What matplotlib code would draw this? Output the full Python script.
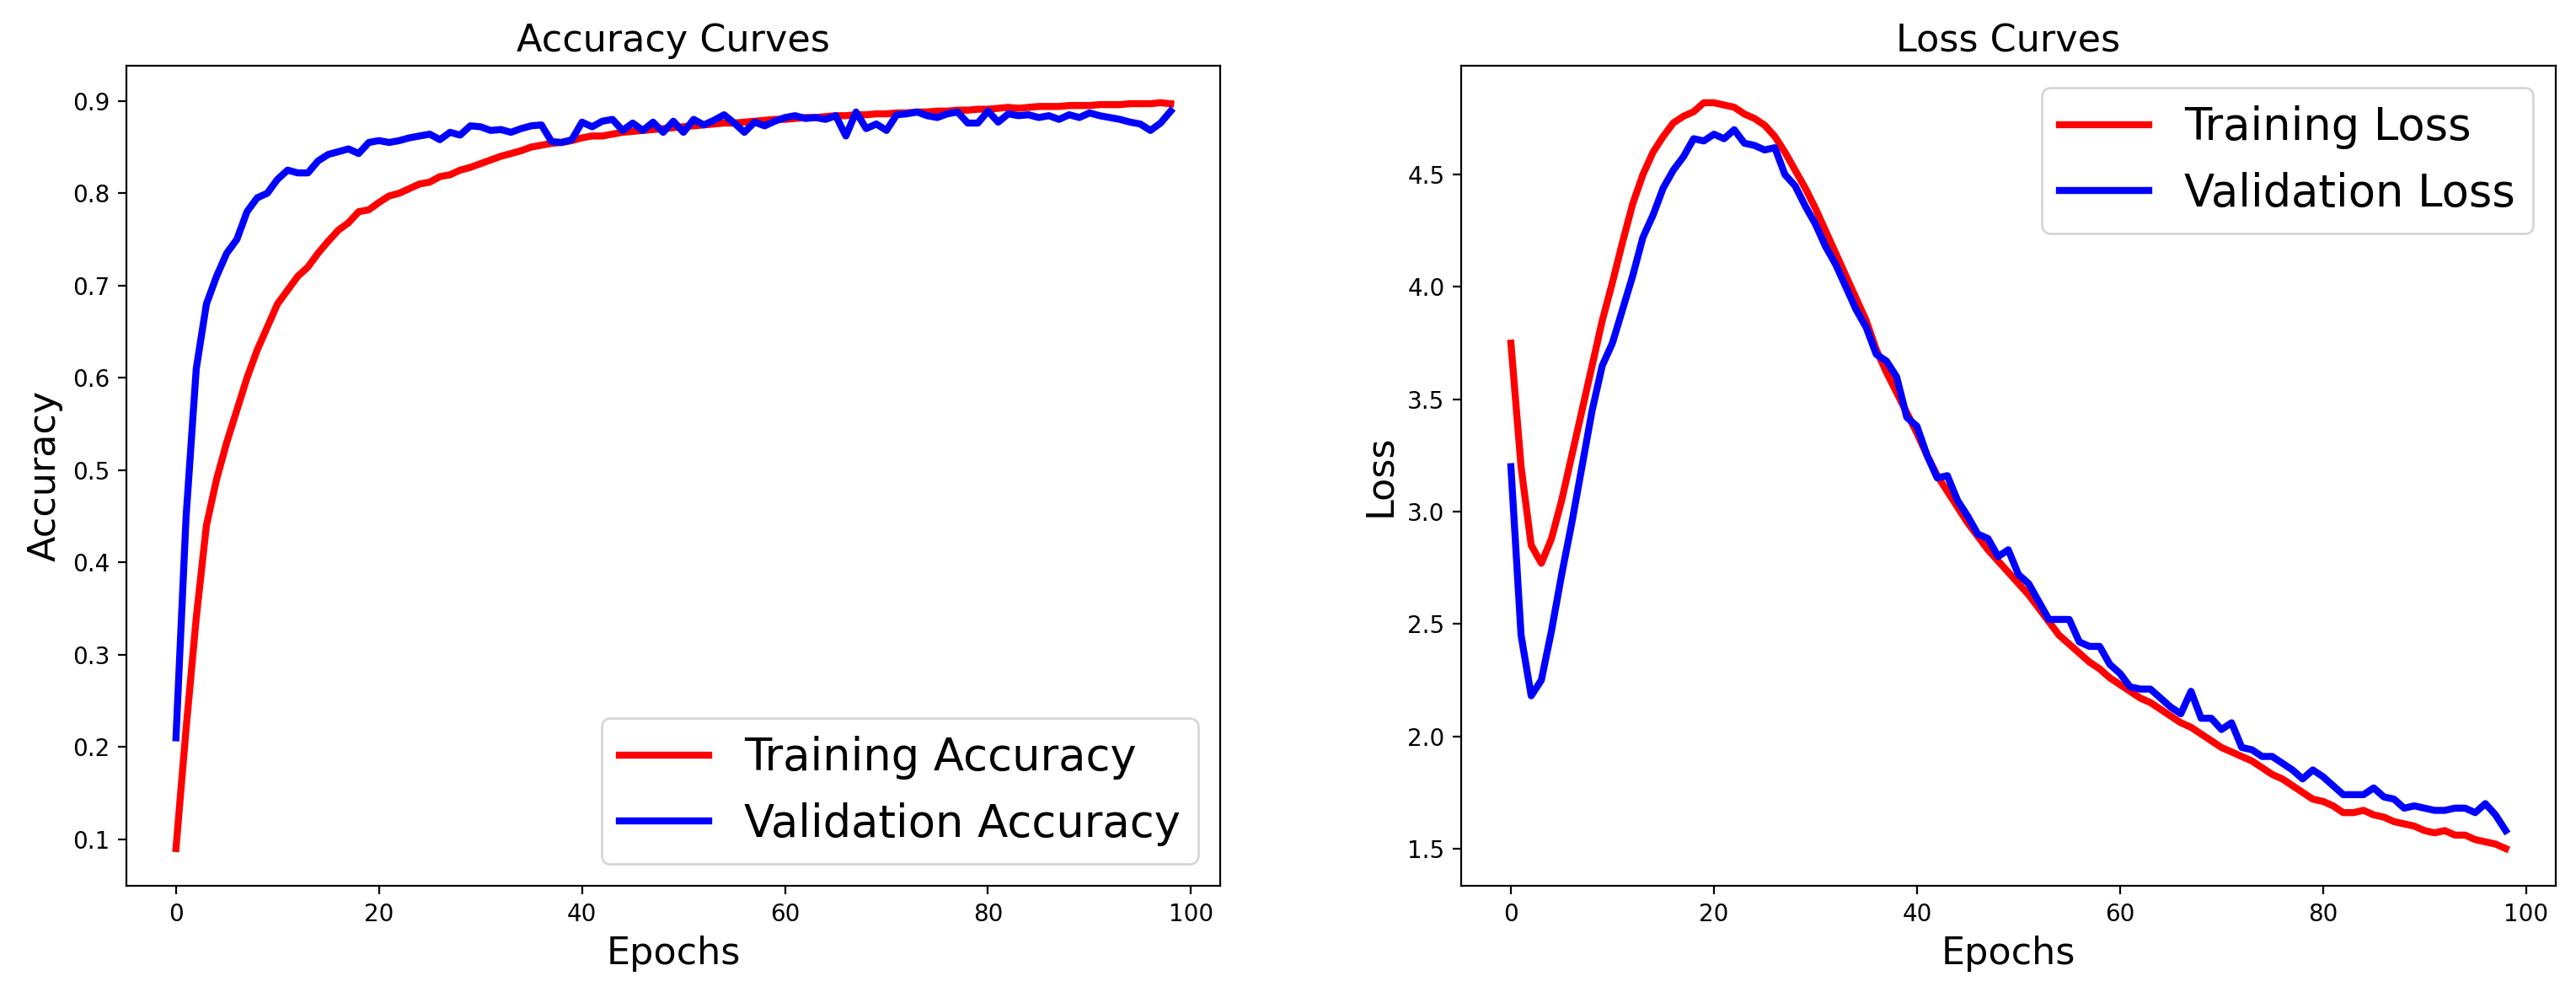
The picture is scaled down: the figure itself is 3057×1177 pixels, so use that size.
import matplotlib
matplotlib.use("Agg")
import matplotlib.pyplot as plt

train_acc = [0.09,0.22,0.34,0.44,0.49,0.53,0.565,0.60,0.63,0.655,
0.68,0.695,0.71,0.72,0.735,0.748,0.76,0.768,0.78,0.782,
0.79,0.797,0.80,0.805,0.81,0.812,0.818,0.82,0.825,0.828,
0.832,0.836,0.84,0.843,0.846,0.85,0.852,0.854,0.855,0.857,
0.86,0.862,0.862,0.864,0.866,0.867,0.868,0.869,0.87,0.871,
0.872,0.873,0.874,0.875,0.876,0.876,0.877,0.878,0.879,0.88,
0.88,0.881,0.882,0.882,0.883,0.884,0.884,0.885,0.885,0.886,
0.886,0.887,0.887,0.888,0.888,0.889,0.889,0.89,0.89,0.891,
0.891,0.892,0.893,0.892,0.893,0.894,0.894,0.894,0.895,0.895,
0.895,0.896,0.896,0.896,0.897,0.897,0.897,0.898,0.897]
val_acc = [0.21,0.45,0.61,0.68,0.71,0.735,0.75,0.78,0.795,0.80,
0.815,0.825,0.822,0.822,0.835,0.842,0.845,0.848,0.843,0.855,
0.857,0.855,0.857,0.86,0.862,0.864,0.858,0.866,0.863,0.873,
0.872,0.868,0.869,0.866,0.87,0.873,0.874,0.856,0.855,0.858,
0.877,0.872,0.878,0.88,0.868,0.876,0.868,0.877,0.866,0.878,
0.866,0.88,0.874,0.879,0.885,0.876,0.866,0.877,0.873,0.878,
0.882,0.884,0.881,0.882,0.88,0.884,0.862,0.888,0.87,0.875,
0.868,0.885,0.886,0.888,0.884,0.882,0.886,0.888,0.876,0.876,
0.889,0.877,0.886,0.884,0.885,0.882,0.884,0.88,0.885,0.882,
0.887,0.884,0.882,0.88,0.877,0.875,0.868,0.876,0.889]
train_loss = [3.75,3.2,2.85,2.77,2.88,3.05,3.25,3.45,3.65,3.85,
4.02,4.2,4.37,4.5,4.6,4.67,4.73,4.76,4.78,4.82,
4.82,4.81,4.8,4.77,4.75,4.72,4.67,4.6,4.52,4.44,
4.35,4.25,4.15,4.05,3.95,3.85,3.72,3.62,3.53,3.44,
3.35,3.25,3.16,3.09,3.02,2.95,2.89,2.83,2.78,2.73,
2.68,2.63,2.57,2.51,2.45,2.41,2.37,2.33,2.3,2.26,
2.23,2.2,2.17,2.15,2.12,2.09,2.06,2.04,2.01,1.98,
1.95,1.93,1.91,1.89,1.86,1.83,1.81,1.78,1.75,1.72,
1.71,1.69,1.66,1.66,1.67,1.65,1.64,1.62,1.61,1.6,
1.58,1.57,1.58,1.56,1.56,1.54,1.53,1.52,1.5]
val_loss = [3.2,2.45,2.18,2.25,2.47,2.72,2.95,3.2,3.45,3.65,
3.75,3.9,4.05,4.22,4.32,4.44,4.52,4.58,4.66,4.65,
4.68,4.66,4.7,4.64,4.63,4.61,4.62,4.5,4.45,4.36,
4.28,4.18,4.1,4.0,3.9,3.82,3.7,3.67,3.6,3.42,
3.38,3.25,3.15,3.16,3.05,2.98,2.9,2.88,2.8,2.83,
2.72,2.68,2.6,2.52,2.52,2.52,2.42,2.4,2.4,2.32,
2.28,2.22,2.21,2.21,2.17,2.13,2.1,2.2,2.08,2.08,
2.03,2.06,1.95,1.94,1.91,1.91,1.88,1.85,1.81,1.85,
1.82,1.78,1.74,1.74,1.74,1.77,1.73,1.72,1.68,1.69,
1.68,1.67,1.67,1.68,1.68,1.66,1.7,1.65,1.58]
epochs = list(range(len(train_acc)))

fig, (ax1, ax2) = plt.subplots(1, 2, figsize=(15.285, 5.885), dpi=200)
ax1.plot(epochs, train_acc, 'r', lw=3, label='Training Accuracy')
ax1.plot(epochs, val_acc, 'b', lw=3, label='Validation Accuracy')
ax1.legend(fontsize=19, loc='lower right')
ax1.set_xlabel('Epochs', fontsize=16)
ax1.set_ylabel('Accuracy', fontsize=16)
ax1.set_title('Accuracy Curves', fontsize=16)
ax2.plot(epochs, train_loss, 'r', lw=3, label='Training Loss')
ax2.plot(epochs, val_loss, 'b', lw=3, label='Validation Loss')
ax2.legend(fontsize=19, loc='upper right')
ax2.set_xlabel('Epochs', fontsize=16)
ax2.set_ylabel('Loss', fontsize=16)
ax2.set_title('Loss Curves', fontsize=16)
fig.subplots_adjust(left=0.049, right=0.992, top=0.934, bottom=0.107, wspace=0.22)
fig.savefig('out.png')
